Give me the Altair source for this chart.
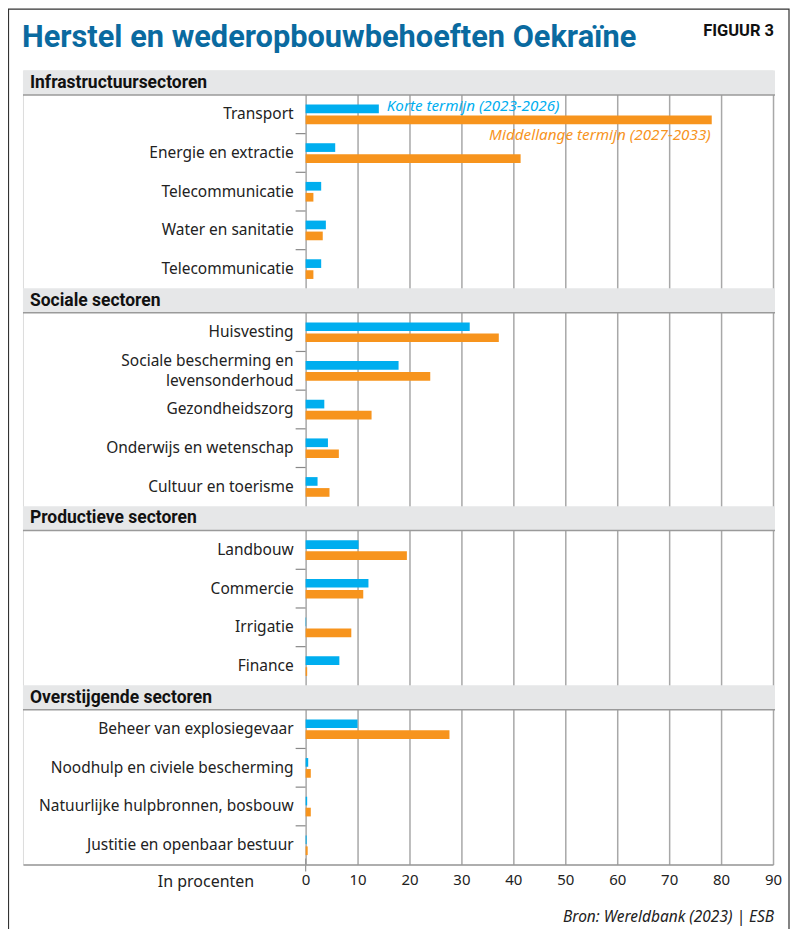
import altair as alt
import pandas as pd

# ---------------- data ----------------
sections = ["Infrastructuursectoren", "Sociale sectoren", "Productieve sectoren", "Overstijgende sectoren"]

infra_cats = ["Transport", "Energie en extractie", "Telecommunicatie", "Water en sanitatie", "Telecommunicatie"]
infra_short = [14.1, 5.7, 3.0, 3.9, 3.0]
infra_mid = [78.2, 41.4, 1.5, 3.3, 1.5]

social_cats = ["Huisvesting", "Sociale bescherming en\nlevensonderhoud", "Gezondheidszorg",
               "Onderwijs en wetenschap", "Cultuur en toerisme"]
social_short = [31.6, 17.9, 3.6, 4.3, 2.3]
social_mid = [37.2, 24.0, 12.7, 6.4, 4.6]

prod_cats = ["Landbouw", "Commercie", "Irrigatie", "Finance"]
prod_short = [10.2, 12.1, 0.1, 6.5]
prod_mid = [19.5, 11.1, 8.8, 0.3]

over_cats = ["Beheer van explosiegevaar", "Noodhulp en civiele bescherming",
             "Natuurlijke hulpbronnen, bosbouw", "Justitie en openbaar bestuur"]
over_short = [10.0, 0.5, 0.3, 0.2]
over_mid = [27.7, 1.0, 1.0, 0.4]

x_ticks = [0, 10, 20, 30, 40, 50, 60, 70, 80, 90]

title_text = "Herstel en wederopbouwbehoeften Oekraïne"
figure_text = "FIGUUR 3"
short_label = "Korte termijn (2023-2026)"
mid_label = "Middellange termijn (2027-2033)"
axis_title = "In procenten"
source_text = "Bron: Wereldbank (2023) | ESB"

# ---------------- style ----------------
BLUE = "#00aeef"
ORANGE = "#f7941d"
TITLE_BLUE = "#0a6aa0"
BAND = "#e6e7e8"
GRID = "#a8a8a8"
TXT = "#222222"
FONT = "Noto Sans"
HFONT = "Roboto"

W, H = 751, 795
HEADER_H = 0.632   # header band height relative to a category row
LINE_H = 0.51      # line spacing of two-line labels, in row units
ZERO_PX = 283      # pixel position of 0 inside the plot

cat_lists = [infra_cats, social_cats, prod_cats, over_cats]
short_lists = [infra_short, social_short, prod_short, over_short]
mid_lists = [infra_mid, social_mid, prod_mid, over_mid]

rows, headers, ticks, label_lines = [], [], [], []
pos = 0.0
for name, cats, s, m in zip(sections, cat_lists, short_lists, mid_lists):
    headers.append({"name": name, "top": pos, "bottom": pos + HEADER_H, "mid": pos + HEADER_H / 2})
    pos += HEADER_H
    for i, (c, sv, mv) in enumerate(zip(cats, s, m)):
        if i > 0:
            ticks.append({"pos": pos})
        center = pos + 0.5
        rows.append({"label": c, "pos": center, "short": sv, "mid": mv, "zero": 0})
        parts = c.split("\n")
        for k, line in enumerate(parts):
            label_lines.append({"line": line, "pos": center + (k - (len(parts) - 1) / 2) * LINE_H,
                                "zero": 0})
        pos += 1
total = pos

rows_df = pd.DataFrame(rows)
lines_df = pd.DataFrame(label_lines)
head_df = pd.DataFrame(headers)
tick_df = pd.DataFrame(ticks)
legend_df = rows_df.iloc[[0]].assign(slab=short_label, mlab=mid_label)
one = pd.DataFrame({"fig": [figure_text], "src": [source_text], "title": [title_text]})

xscale = alt.Scale(domain=[-54.42, 90], nice=False, zero=False, padding=0)
yscale = alt.Scale(domain=[0, total], reverse=True, nice=False, zero=False, padding=0)
xaxis = alt.Axis(values=x_ticks, grid=True, gridColor=GRID, gridWidth=1.5, ticks=False,
                 domainColor="#999999", domainWidth=1.5, labelFontSize=15, labelColor=TXT,
                 labelFont=FONT, labelPadding=8, labelFlush=False, labelOverlap=False,
                 title=axis_title, titleFont=FONT,
                 titleFontSize=16, titleFontWeight="normal", titleColor=TXT, titleX=231,
                 titleY=17, titleAlign="right", titleBaseline="middle", titleAngle=0)


def X(field):
    return alt.X(field, type="quantitative", scale=xscale, axis=xaxis)


def Y(field):
    return alt.Y(field, type="quantitative", scale=yscale, axis=None)


base_rows = alt.Chart(rows_df)

blue_bars = base_rows.mark_bar(size=8.7, yOffset=-5.4, color=BLUE).encode(
    x=X("short"), x2="zero", y=Y("pos"))
orange_bars = base_rows.mark_bar(size=8.7, yOffset=5.6, color=ORANGE).encode(
    x=X("mid"), x2="zero", y=Y("pos"))

labels = alt.Chart(lines_df).mark_text(align="right", baseline="middle", dx=-12, font=FONT,
                                       fontSize=15.5, color=TXT).encode(
    x=X("zero"), y=Y("pos"), text="line")

row_ticks = alt.Chart(tick_df).mark_rule(color="#888888", strokeWidth=1.2).encode(
    x=alt.value(ZERO_PX - 10), x2=alt.value(ZERO_PX), y=Y("pos"))

zero_tick = alt.Chart(one).mark_rule(color="#999999", strokeWidth=1.3).encode(
    x=alt.value(ZERO_PX), y=alt.value(H - 6), y2=alt.value(H + 7))

bands = alt.Chart(head_df).mark_rect(color=BAND).encode(
    x=alt.value(0), x2=alt.value(W + 2), y=Y("top"), y2="bottom")
band_lines = alt.Chart(head_df).mark_rule(color="#9a9a9a", strokeWidth=1.5).encode(
    x=alt.value(0), x2=alt.value(W + 2), y=Y("bottom"))
band_text = alt.Chart(head_df).mark_text(align="left", baseline="middle", font=HFONT, fontSize=17.5,
                                         fontWeight="bold", color="#111111").encode(
    x=alt.value(7), y=Y("mid"), text="name")

leg_short = alt.Chart(legend_df).mark_text(align="left", baseline="middle", dx=8, yOffset=-8.4,
                                           font=FONT, fontSize=15.2, fontStyle="italic",
                                           color=BLUE).encode(
    x=X("short"), y=Y("pos"), text="slab")
leg_mid = alt.Chart(legend_df).mark_text(align="right", baseline="middle", dx=-1, yOffset=20.6,
                                         font=FONT, fontSize=15.3, fontStyle="italic",
                                         color=ORANGE).encode(
    x=X("mid"), y=Y("pos"), text="mlab")

title = alt.Chart(one).mark_text(align="left", baseline="alphabetic", font=HFONT, fontSize=30.8,
                                 fontWeight="bold", color=TITLE_BLUE).encode(
    x=alt.value(-1), y=alt.value(-24), text="title")
fig_label = alt.Chart(one).mark_text(align="right", baseline="middle", font=HFONT, fontSize=16.5,
                                     fontWeight="bold", color="#111111").encode(
    x=alt.value(752), y=alt.value(-40), text="fig")
source = alt.Chart(one).mark_text(align="right", baseline="middle", font=FONT, fontSize=15.5,
                                  fontStyle="italic", color=TXT).encode(
    x=alt.value(752), y=alt.value(848), text="src")
frame = alt.Chart(one).mark_rect(fillOpacity=0, stroke="#333333", strokeWidth=1.2).encode(
    x=alt.value(-14.5), x2=alt.value(767), y=alt.value(-61.5), y2=alt.value(H + 200))

chart = alt.layer(
    blue_bars, orange_bars, labels, row_ticks, zero_tick, bands, band_lines, band_text,
    leg_short, leg_mid, title, fig_label, source, frame
).properties(
    width=W, height=H,
    padding={"left": 15, "top": 62, "right": 17, "bottom": 64},
    autosize=alt.AutoSizeParams(type="none"),
).configure_view(stroke=None).configure(background="white")

chart.save("out.html", embed_options={"renderer": "svg", "actions": False})
